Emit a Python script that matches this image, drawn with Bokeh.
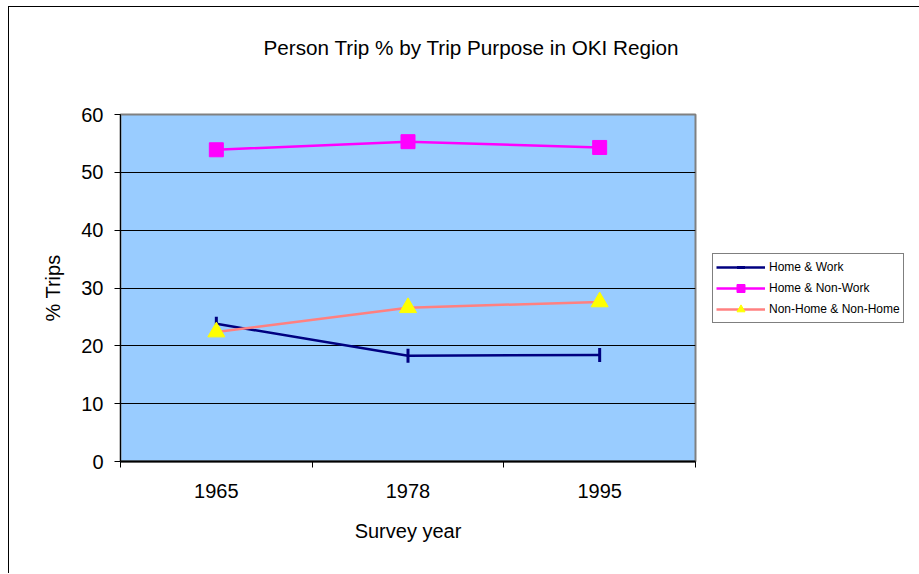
import math
from bokeh.plotting import figure
from bokeh.models import Range1d, FixedTicker, Legend, LegendItem, Title
from bokeh.embed import file_html
from bokeh.resources import INLINE

# ---- data ----
years = ["1965", "1978", "1995"]
home_work = [23.8, 18.3, 18.4]
home_nonwork = [53.9, 55.3, 54.3]
nonhome_nonhome = [22.4, 26.6, 27.6]
y_ticks = [0, 10, 20, 30, 40, 50, 60]
title_text = "Person Trip % by Trip Purpose in OKI Region"

xs = list(range(1, len(years) + 1))
FONT = "Liberation Sans"

p = figure(frame_width=575, frame_height=347, output_backend="svg", toolbar_location=None,
           x_range=Range1d(0.5, len(years) + 0.5), y_range=Range1d(y_ticks[0], y_ticks[-1]),
           min_border_left=111, min_border_right=0, min_border_top=107, min_border_bottom=112,
           background_fill_color="#99CCFF", border_fill_color="white",
           outline_line_color="#808080", outline_line_width=2)
p.styles = {"border-left": "1px solid black", "border-top": "1px solid black",
            "margin-left": "8px", "margin-top": "6px"}

# title: spacer (closest to the plot area) then the real title
p.title.text = ""
spacer = Title(text=" ", text_font=FONT, text_font_size="20px", standoff=32)
p.add_layout(spacer, "above")
main_title = Title(text=title_text, text_font=FONT, text_font_size="20.7px",
                   text_font_style="normal", text_color="black",
                   align="left", offset=143, standoff=0)
p.add_layout(main_title, "above")

# x axis
xa = p.xaxis[0]
xa.ticker = FixedTicker(ticks=xs, minor_ticks=[x - 0.5 for x in xs] + [xs[-1] + 0.5])
xa.major_label_overrides = {x: y for x, y in zip(xs, years)}
xa.major_tick_out = 0
xa.major_tick_in = 0
xa.minor_tick_out = 6
xa.minor_tick_in = 0
xa.minor_tick_line_color = "black"
xa.axis_line_color = "black"
xa.axis_line_width = 2
xa.major_label_text_font = FONT
xa.major_label_text_font_size = "20px"
xa.major_label_text_color = "black"
xa.major_label_standoff = 16
xa.axis_label = "Survey year"
xa.axis_label_text_font = FONT
xa.axis_label_text_font_size = "20px"
xa.axis_label_text_font_style = "normal"
xa.axis_label_text_color = "black"
xa.axis_label_standoff = 19

# y axis
ya = p.yaxis[0]
ya.ticker = FixedTicker(ticks=y_ticks)
ya.major_tick_out = 6
ya.major_tick_in = 0
ya.minor_tick_line_color = None
ya.axis_line_color = "black"
ya.major_tick_line_color = "black"
ya.major_label_text_font = FONT
ya.major_label_text_font_size = "20px"
ya.major_label_text_color = "black"
ya.major_label_standoff = 11
ya.axis_label = "% Trips"
ya.axis_label_text_font = FONT
ya.axis_label_text_font_size = "20px"
ya.axis_label_text_font_style = "normal"
ya.axis_label_text_color = "black"
ya.axis_label_standoff = 14

# grids
p.xgrid.visible = False
p.ygrid.ticker = FixedTicker(ticks=y_ticks[1:-1])
p.ygrid.grid_line_color = "black"
p.ygrid.grid_line_width = 1

# series
l1 = p.line(xs, home_work, line_color="#000080", line_width=2.5)
m1 = p.scatter(xs, home_work, marker="dash", angle=math.pi / 2, size=14,
               line_color="#000080", line_width=3)
l2 = p.line(xs, home_nonwork, line_color="#FF00FF", line_width=2.5)
m2 = p.scatter(xs, home_nonwork, marker="square", size=14,
               fill_color="#FF00FF", line_color="#FF00FF", line_width=1)
l3 = p.line(xs, nonhome_nonhome, line_color="#FF8080", line_width=2.5)
m3 = p.scatter(xs, nonhome_nonhome, marker="triangle", size=17,
               fill_color="#FFFF00", line_color="#FFFF00", line_width=1)

legend = Legend(items=[
    LegendItem(label="Home & Work", renderers=[l1, m1]),
    LegendItem(label="Home & Non-Work", renderers=[l2, m2]),
    LegendItem(label="Non-Home & Non-Home", renderers=[l3, m3]),
], location="left")
legend.label_text_font = FONT
legend.label_text_font_size = "12px"
legend.label_text_color = "black"
legend.label_height = 20
legend.glyph_height = 20
legend.glyph_width = 49
legend.label_standoff = 4
legend.spacing = 1
legend.padding = 3
legend.margin = 17
legend.border_line_color = "black"
legend.border_line_width = 1
legend.background_fill_color = "white"
legend.background_fill_alpha = 1
p.add_layout(legend, "right")

open("out.html", "w").write(file_html(p, INLINE))
